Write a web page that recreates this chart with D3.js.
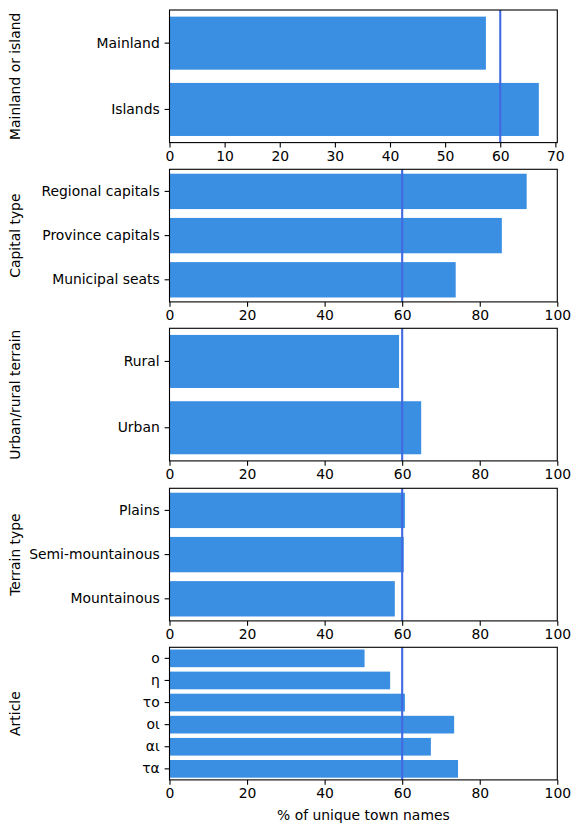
<!DOCTYPE html>
<html>
<head>
<meta charset="utf-8">
<script src="https://cdn.jsdelivr.net/npm/d3@7"></script>
<style>
  html, body { margin: 0; padding: 0; background: #fff; }
  svg { display: block; font-family: "DejaVu Sans", sans-serif; }
</style>
</head>
<body>
<svg id="chart" width="580" height="833"></svg>
<script>
// ---- Data ----
const mainlandCats = ["Mainland", "Islands"];
const mainlandVals = [57.4, 67.0];

const capitalCats = ["Regional capitals", "Province capitals", "Municipal seats"];
const capitalVals = [92.1, 85.7, 73.8];

const urbanCats = ["Rural", "Urban"];
const urbanVals = [59.2, 64.9];

const terrainCats = ["Plains", "Semi-mountainous", "Mountainous"];
const terrainVals = [60.7, 60.4, 58.1];

const articleCats = ["ο", "η", "το", "οι", "αι", "τα"];
const articleVals = [50.3, 56.9, 60.7, 73.4, 67.4, 74.4];

const yTitles = ["Mainland or island", "Capital type", "Urban/rural terrain", "Terrain type", "Article"];
const refValue = 60;
const xTitle = "% of unique town names";

const panels = [
  { cats: mainlandCats, vals: mainlandVals, title: yTitles[0], xmax: 70.35, ticks: [0,10,20,30,40,50,60,70] },
  { cats: capitalCats, vals: capitalVals, title: yTitles[1], xmax: 100, ticks: [0,20,40,60,80,100] },
  { cats: urbanCats, vals: urbanVals, title: yTitles[2], xmax: 100, ticks: [0,20,40,60,80,100] },
  { cats: terrainCats, vals: terrainVals, title: yTitles[3], xmax: 100, ticks: [0,20,40,60,80,100] },
  { cats: articleCats, vals: articleVals, title: yTitles[4], xmax: 100, ticks: [0,20,40,60,80,100] }
];

// ---- Layout ----
const svg = d3.select("#chart");
const left = 169.5, right = 557.3;
const tops = [10, 169.3, 328.3, 488.3, 647.3];
const ph = 132.6;
const fs = 13.9;
const barColor = "#3a8fe3";
const lineColor = "#4169e1";

panels.forEach((p, i) => {
  const top = tops[i], bottom = top + ph;
  const x = d3.scaleLinear().domain([0, p.xmax]).range([left, right]);
  const y = d3.scaleBand().domain(p.cats).range([top, bottom]).paddingInner(0.2).paddingOuter(0.1);
  const g = svg.append("g");

  g.selectAll("rect.bar").data(p.cats.map((c, k) => ({ c, v: p.vals[k] })))
    .enter().append("rect").attr("class", "bar")
    .attr("x", x(0)).attr("y", d => y(d.c))
    .attr("width", d => x(d.v) - x(0)).attr("height", y.bandwidth())
    .attr("fill", barColor);

  g.append("line")
    .attr("x1", x(refValue)).attr("x2", x(refValue))
    .attr("y1", top).attr("y2", bottom)
    .attr("stroke", lineColor).attr("stroke-width", 2.1);

  // frame
  g.append("rect").attr("x", left).attr("y", top)
    .attr("width", right - left).attr("height", ph)
    .attr("fill", "none").attr("stroke", "#000").attr("stroke-width", 1.1);

  // x axis
  const xa = g.append("g").attr("transform", `translate(0,${bottom})`)
    .call(d3.axisBottom(x).tickValues(p.ticks).tickSize(4.9).tickPadding(3.5).tickFormat(d3.format("d")));
  xa.select(".domain").remove();
  xa.selectAll(".tick line").attr("stroke", "#000").attr("stroke-width", 1.1);
  xa.selectAll(".tick text").attr("font-size", fs).attr("font-family", "DejaVu Sans").attr("fill", "#000");

  // y axis
  const ya = g.append("g").attr("transform", `translate(${left},0)`)
    .call(d3.axisLeft(y).tickSize(4.9).tickPadding(4.9));
  ya.select(".domain").remove();
  ya.selectAll(".tick line").attr("stroke", "#000").attr("stroke-width", 1.1);
  ya.selectAll(".tick text").attr("font-size", fs).attr("font-family", "DejaVu Sans").attr("fill", "#000");

  // y title
  g.append("text")
    .attr("transform", `translate(20,${(top + bottom) / 2}) rotate(-90)`)
    .attr("text-anchor", "middle").attr("font-size", fs).attr("fill", "#000")
    .text(p.title);

  if (i === panels.length - 1) {
    g.append("text").attr("x", (left + right) / 2).attr("y", bottom + 40)
      .attr("text-anchor", "middle").attr("font-size", fs).attr("fill", "#000")
      .text(xTitle);
  }
});
</script>
</body>
</html>
